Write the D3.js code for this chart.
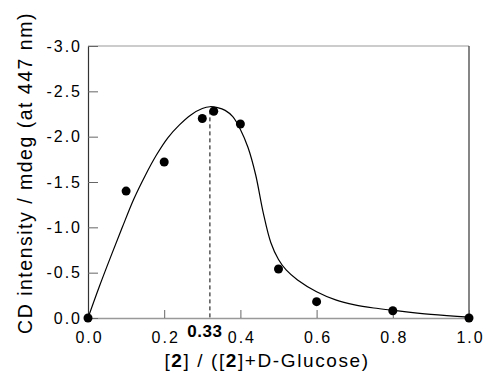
<!DOCTYPE html>
<html>
<head>
<meta charset="utf-8">
<script src="https://cdn.jsdelivr.net/npm/d3@7"></script>
<style>
  body { margin: 0; background: #fff; }
  svg { display: block; font-family: "Liberation Sans", Arial, sans-serif; }
</style>
</head>
<body>
<div id="chart"></div>
<script>
// measured points (fraction of [2], CD in mdeg)
var fracs = [0.0, 0.1, 0.2, 0.3, 0.33, 0.4, 0.5, 0.6, 0.8, 1.0];
var cdVals = [0.0, -1.40, -1.72, -2.20, -2.28, -2.14, -0.54, -0.18, -0.08, 0.0];

// fitted curve
var fitX = [0.0, 0.03, 0.06, 0.09, 0.12, 0.15, 0.18, 0.21, 0.24, 0.27, 0.30, 0.32, 0.34, 0.36, 0.38, 0.40, 0.42, 0.44, 0.46, 0.48, 0.50, 0.52, 0.55, 0.60, 0.65, 0.70, 0.75, 0.80, 0.90, 1.0];
var fitY = [0.0, -0.35, -0.68, -1.00, -1.31, -1.57, -1.80, -1.99, -2.13, -2.24, -2.31, -2.33, -2.32, -2.29, -2.22, -2.08, -1.88, -1.58, -1.16, -0.83, -0.645, -0.53, -0.42, -0.29, -0.20, -0.145, -0.11, -0.085, -0.04, -0.01];

var xTicks = [0.0, 0.2, 0.4, 0.6, 0.8, 1.0];
var yTicks = [0.0, -0.5, -1.0, -1.5, -2.0, -2.5, -3.0];
var markX = 0.32, markY = -2.29, markLabel = '0.33';

var svg = d3.select('#chart').append('svg').attr('width', 489).attr('height', 373);

var x = d3.scaleLinear().domain([0, 1]).range([88, 469]);
var y = d3.scaleLinear().domain([0, -3]).range([318, 46]);

// frame
svg.append('line').attr('x1', 88).attr('y1', 46).attr('x2', 469).attr('y2', 46)
   .style('stroke', '#999').style('stroke-width', 1);
svg.append('line').attr('x1', 469).attr('y1', 46).attr('x2', 469).attr('y2', 318)
   .style('stroke', '#444').style('stroke-width', 1.3);

// axes
var gx = svg.append('g').attr('transform', 'translate(0,318)')
   .call(d3.axisBottom(x).tickValues(xTicks).tickSizeInner(-8).tickSizeOuter(0).tickPadding(14)
           .tickFormat(function(d){return d.toFixed(1);}));
gx.select('.domain').style('stroke', '#999').style('stroke-width', 1.3);
gx.selectAll('.tick line').style('stroke', '#666');
gx.selectAll('text').style('font-size', '16px').style('letter-spacing', '2px').style('fill', '#000')
  .attr('dx', '1px');

var gy = svg.append('g').attr('transform', 'translate(88,0)')
   .call(d3.axisLeft(y).tickValues(yTicks).tickSizeInner(-10).tickSizeOuter(0).tickPadding(6)
           .tickFormat(function(d){return d.toFixed(1);}));
gy.select('.domain').style('stroke', '#333').style('stroke-width', 1.2);
gy.selectAll('.tick line').style('stroke', '#666');
gy.selectAll('text').style('font-size', '16px').style('letter-spacing', '2px').style('fill', '#000');

// dashed marker at the maximum
svg.append('line')
   .attr('x1', x(markX)).attr('y1', y(markY)).attr('x2', x(markX)).attr('y2', y(0))
   .style('stroke', '#000').style('stroke-width', 1).style('stroke-dasharray', '4, 3');

svg.append('text')
   .attr('x', x(markX) - 5).attr('y', 337)
   .attr('text-anchor', 'middle')
   .style('font-size', '17px').style('font-weight', 'bold').style('letter-spacing', '0.5px')
   .text(markLabel);

// fitted curve
var fit = fitX.map(function(d, i){return {x : d, y : fitY[i]};});
svg.append('path')
   .datum(fit)
   .attr('d', d3.line().x(function(d){return x(d.x);}).y(function(d){return y(d.y);}).curve(d3.curveCatmullRom))
   .style('fill', 'none').style('stroke', '#000').style('stroke-width', 1.2);

// points
svg.selectAll('.pt')
   .data(fracs)
   .enter()
   .append('circle')
   .classed('pt', true)
   .attr('cx', function(d){return x(d);})
   .attr('cy', function(d, i){return y(cdVals[i]);})
   .attr('r', 4.5)
   .style('fill', '#000');

// axis titles
var xt = svg.append('text')
   .attr('x', 267).attr('y', 367)
   .attr('text-anchor', 'middle')
   .style('font-size', '19px').style('letter-spacing', '1.6px');
xt.append('tspan').text('[');
xt.append('tspan').style('font-weight', 'bold').text('2');
xt.append('tspan').text('] / ([');
xt.append('tspan').style('font-weight', 'bold').text('2');
xt.append('tspan').text(']+D-Glucose)');

svg.append('text')
   .attr('transform', 'translate(32,173) rotate(-90)')
   .attr('text-anchor', 'middle')
   .style('font-size', '19.5px').style('letter-spacing', '1.5px')
   .text('CD intensity / mdeg (at 447 nm)');
</script>
</body>
</html>
